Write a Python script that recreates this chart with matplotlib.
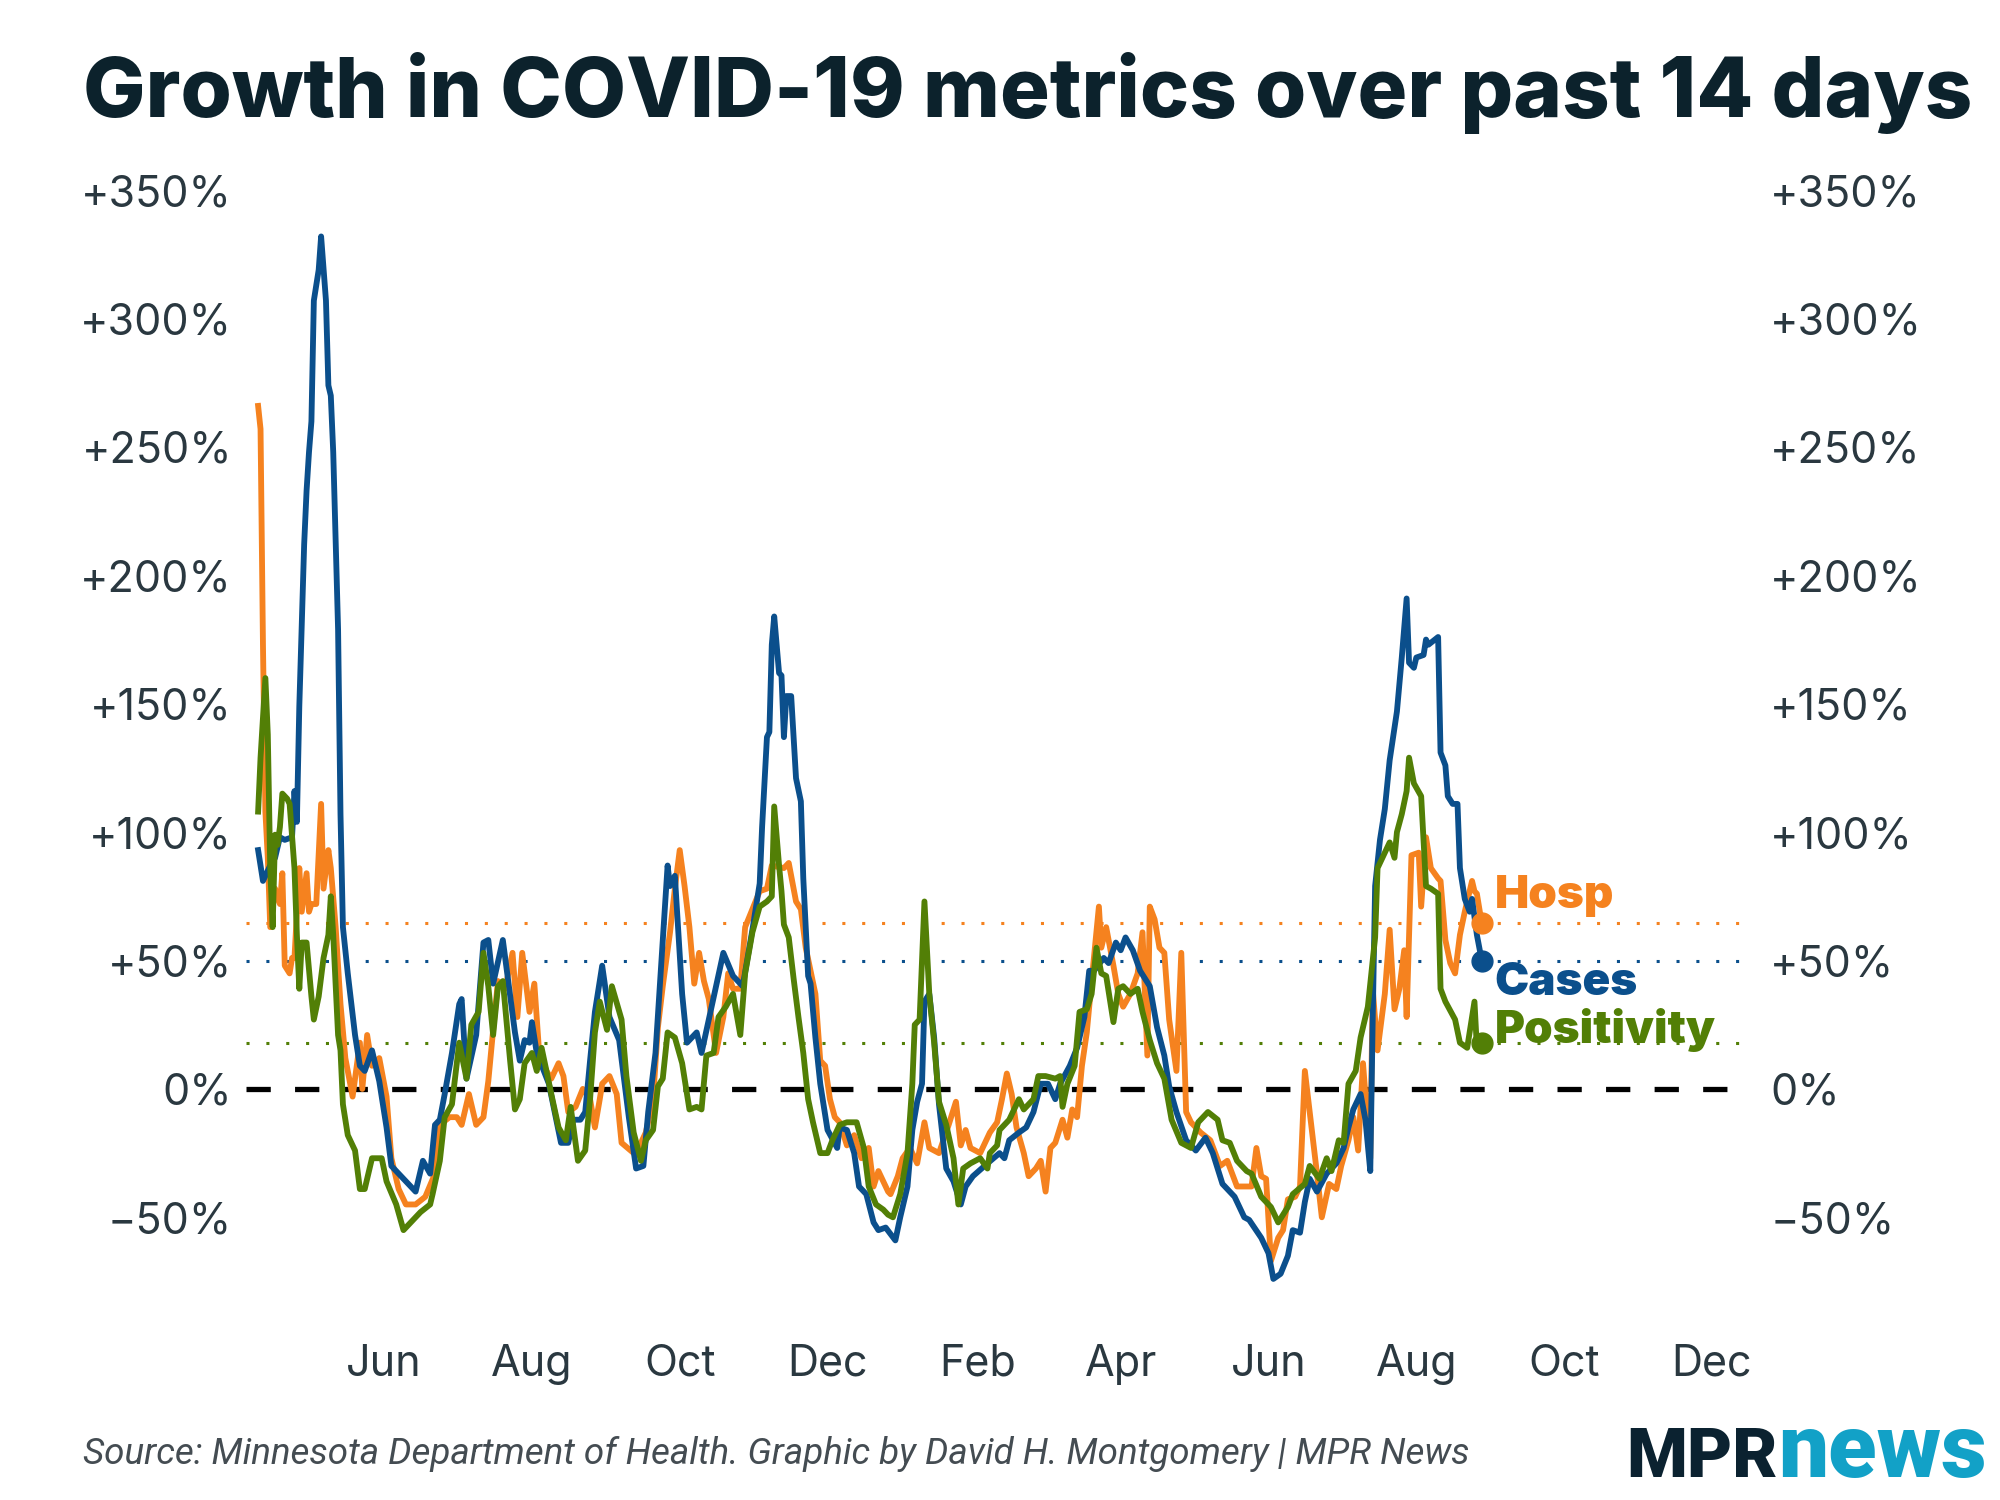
import numpy as np
import matplotlib.pyplot as plt
import matplotlib.dates as mdates

# days since 2020-04-01
cases_day = [9, 11, 14, 16, 18, 20, 23, 24, 25, 26, 28, 29, 30, 31, 32, 34, 35, 37, 38, 39, 40, 42, 43, 44, 46, 49, 51, 53, 56, 59, 62, 64, 70, 74, 77, 80, 82, 84, 86, 89, 92, 93, 95, 99, 102, 104, 106, 110, 115, 117, 119, 121, 122, 124, 129, 134, 137, 139, 142, 144, 146, 148, 151, 154, 158, 162, 165, 168, 170, 173, 176, 178, 179, 181, 184, 186, 190, 192, 195, 198, 201, 205, 209, 213, 216, 217, 219, 220, 221, 222, 224, 225, 226, 227, 229, 231, 233, 234, 236, 237, 239, 241, 244, 248, 249, 252, 255, 257, 260, 263, 265, 268, 272, 274, 277, 279, 281, 283, 284, 286, 288, 290, 293, 296, 299, 301, 304, 310, 315, 317, 319, 323, 326, 329, 332, 335, 338, 340, 344, 347, 350, 352, 354, 358, 360, 363, 365, 367, 370, 373, 377, 380, 383, 385, 388, 392, 396, 400, 403, 407, 412, 416, 418, 423, 426, 428, 431, 434, 436, 439, 441, 443, 446, 450, 454, 457, 459, 461, 464, 466, 468, 469, 470, 472, 474, 476, 479, 481, 483, 484, 486, 487, 490, 491, 492, 496, 497, 499, 500, 502, 504, 505, 507, 509, 510, 511, 512, 514]
cases_pct = [93, 81, 87, 90, 98, 97, 98, 116, 104, 149, 212, 233, 248, 260, 307, 319, 332, 307, 274, 270, 248, 179, 107, 63, 45, 21, 9, 7, 15, 3, -15, -30, -36, -40, -28, -33, -14, -12, -2, 14, 33, 35, 4, 21, 57, 58, 41, 58, 22, 11, 19, 18, 26, 14, 2, -21, -21, -12, -12, -9, 11, 30, 48, 28, 19, -11, -31, -30, -9, 14, 58, 87, 79, 83, 37, 18, 22, 14, 27, 40, 53, 44, 40, 62, 80, 102, 137, 139, 173, 184, 162, 161, 137, 153, 153, 121, 112, 82, 44, 41, 20, 2, -16, -23, -15, -16, -25, -38, -41, -52, -55, -54, -59, -50, -38, -16, -5, 2, 34, 37, 20, -6, -31, -36, -45, -38, -34, -29, -25, -27, -20, -17, -15, -9, 2, 2, -4, 2, 9, 16, 28, 46, 46, 51, 49, 57, 54, 59, 54, 46, 40, 24, 13, 1, -9, -20, -24, -19, -25, -37, -42, -50, -51, -58, -64, -74, -72, -65, -55, -56, -44, -35, -40, -33, -29, -23, -15, -8, -2, -12, -32, 27, 79, 97, 109, 128, 147, 168, 191, 166, 164, 168, 169, 175, 173, 176, 131, 126, 114, 111, 111, 86, 74, 69, 74, 67, 60, 50]

hosp_day = [9, 10, 11, 12, 13, 14, 16, 18, 19, 20, 22, 23, 24, 26, 27, 29, 30, 31, 33, 35, 36, 38, 39, 41, 43, 45, 48, 51, 52, 54, 56, 59, 62, 64, 67, 70, 74, 78, 82, 84, 88, 91, 93, 96, 99, 102, 104, 106, 108, 111, 114, 116, 118, 121, 123, 125, 128, 130, 133, 135, 137, 140, 143, 146, 148, 150, 151, 154, 157, 159, 164, 166, 169, 172, 174, 176, 179, 181, 183, 185, 187, 189, 191, 193, 195, 198, 201, 203, 205, 208, 210, 213, 216, 219, 221, 226, 228, 231, 233, 235, 237, 239, 241, 243, 245, 247, 249, 252, 255, 258, 261, 263, 265, 269, 270, 273, 275, 278, 281, 284, 286, 290, 294, 297, 299, 301, 303, 307, 311, 314, 316, 318, 320, 322, 325, 327, 330, 332, 334, 336, 338, 341, 343, 345, 347, 349, 351, 353, 356, 357, 359, 362, 364, 366, 369, 372, 374, 376, 377, 379, 381, 383, 385, 388, 390, 392, 394, 398, 402, 406, 409, 413, 419, 421, 423, 425, 427, 430, 432, 434, 437, 439, 441, 444, 446, 448, 451, 454, 456, 459, 461, 463, 465, 468, 469, 471, 474, 476, 478, 480, 482, 483, 485, 488, 489, 491, 493, 496, 497, 499, 501, 503, 505, 507, 510, 511, 512, 514]
hosp_pct = [266, 257, 173, 108, 90, 63, 78, 72, 84, 48, 45, 51, 51, 86, 69, 84, 69, 72, 72, 111, 78, 93, 86, 63, 33, 12, -3, 18, 0, 21, 9, 12, -3, -27, -39, -45, -45, -42, -33, -14, -11, -11, -14, -2, -14, -11, 3, 23, 42, 39, 53, 28, 53, 30, 41, 14, 7, 4, 10, 5, -9, -7, 0, -4, -15, -4, 2, 5, -2, -21, -25, -23, -17, -4, 24, 40, 61, 78, 93, 79, 63, 41, 53, 42, 35, 14, 28, 45, 39, 39, 63, 70, 77, 78, 87, 86, 88, 73, 70, 55, 46, 37, 11, 9, -4, -11, -13, -22, -18, -27, -23, -38, -32, -40, -41, -34, -27, -23, -29, -13, -23, -25, -14, -5, -22, -16, -23, -25, -17, -13, -4, 6, -2, -15, -25, -34, -31, -28, -40, -23, -21, -12, -19, -8, -11, 9, 22, 42, 71, 55, 63, 48, 37, 32, 37, 45, 61, 13, 71, 66, 55, 53, 27, 7, 53, -9, -13, -17, -20, -30, -28, -38, -38, -23, -34, -35, -67, -58, -55, -43, -42, -38, 7, -17, -33, -50, -37, -39, -30, -20, -11, -24, 10, -27, 39, 15, 37, 62, 31, 39, 54, 28, 91, 92, 71, 98, 86, 82, 81, 58, 49, 45, 60, 69, 81, 77, 76, 64.5]

pos_day = [9, 10, 12, 13, 14, 15, 16, 17, 18, 19, 21, 22, 24, 25, 26, 27, 29, 31, 32, 34, 36, 38, 39, 40, 42, 43, 44, 46, 49, 51, 53, 56, 60, 62, 66, 69, 73, 76, 80, 81, 84, 86, 89, 92, 95, 97, 100, 102, 104, 106, 108, 110, 113, 115, 117, 119, 122, 124, 126, 130, 133, 136, 138, 141, 144, 146, 148, 150, 153, 155, 159, 161, 164, 167, 169, 172, 174, 176, 178, 181, 184, 187, 190, 192, 194, 197, 199, 202, 205, 208, 210, 213, 216, 219, 221, 222, 224, 225, 226, 228, 230, 232, 234, 236, 238, 241, 244, 246, 249, 252, 256, 259, 261, 264, 267, 269, 271, 274, 277, 279, 280, 282, 284, 286, 288, 290, 293, 296, 298, 300, 303, 307, 310, 311, 314, 315, 319, 323, 325, 329, 331, 334, 338, 340, 341, 343, 346, 348, 351, 353, 355, 357, 359, 362, 364, 366, 369, 372, 374, 377, 380, 383, 386, 390, 394, 397, 401, 405, 407, 410, 413, 417, 419, 423, 427, 430, 434, 436, 441, 443, 447, 450, 452, 455, 457, 459, 462, 464, 467, 470, 471, 476, 478, 479, 481, 483, 484, 486, 489, 491, 493, 496, 497, 499, 503, 505, 508, 511, 512, 514]
pos_pct = [108, 129, 160, 138, 86, 63, 99, 95, 102, 115, 113, 111, 86, 60, 39, 57, 57, 36, 27, 36, 51, 60, 75, 60, 21, 15, -6, -18, -24, -39, -39, -27, -27, -36, -45, -55, -51, -48, -45, -41, -28, -11, -6, 18, 4, 25, 30, 53, 40, 21, 40, 42, 11, -8, -4, 10, 14, 7, 16, -2, -15, -20, -7, -28, -24, -4, 22, 34, 23, 40, 27, 5, -17, -28, -20, -16, 1, 4, 22, 20, 10, -8, -7, -8, 13, 14, 28, 32, 37, 21, 45, 61, 71, 73, 75, 110, 87, 77, 64, 59, 43, 28, 14, -4, -13, -25, -25, -20, -14, -13, -13, -23, -38, -45, -47, -49, -50, -41, -25, 2, 25, 27, 73, 37, 18, -5, -14, -27, -45, -31, -29, -27, -31, -25, -22, -16, -12, -4, -8, -4, 5, 5, 4, 5, -7, 2, 9, 30, 31, 37, 55, 45, 44, 26, 39, 40, 37, 39, 30, 19, 10, 4, -12, -21, -23, -13, -9, -12, -20, -21, -28, -32, -33, -42, -46, -52, -46, -41, -37, -30, -35, -27, -32, -20, -21, 2, 7, 20, 32, 59, 86, 96, 90, 100, 107, 116, 129, 119, 114, 79, 78, 76, 39, 34, 27, 18, 16, 34, 16, 18]

series = [
    ('Hosp', hosp_day, hosp_pct, '#f5821f'),
    ('Cases', cases_day, cases_pct, '#0b4f8c'),
    ('Positivity', pos_day, pos_pct, '#527f06'),
]
y_ticks = [-50, 0, 50, 100, 150, 200, 250, 300, 350]
start = np.datetime64('2020-04-01')

def to_dates(days):
    return start + np.array(days, dtype='timedelta64[D]')

def pct_label(v):
    if v > 0:
        return f'+{v}%'
    if v < 0:
        return f'\u2212{abs(v)}%'
    return '0%'

ink = '#2a3840'
plt.rcParams['font.family'] = ['Inter', 'DejaVu Sans']

fig = plt.figure(figsize=(20, 15), dpi=100)
ax = fig.add_axes([0.123, 0.12, 0.7475, 0.7703])

ax.axhline(0, color='black', lw=3.8, dashes=(4.6, 4.6), zorder=2)

offsets = {'Hosp': (13, 27), 'Cases': (13, -22), 'Positivity': (13, 13)}
for name, days, vals, color in series:
    d = to_dates(days)
    ax.axhline(vals[-1], color=color, lw=2.2, dashes=(1, 5.5), zorder=1)
    ax.plot(d, vals, color=color, lw=4.2, solid_joinstyle='round', zorder=3)
    ax.plot(d[-1], vals[-1], 'o', color=color, ms=15, zorder=4)
    ax.annotate(name, (d[-1], vals[-1]), xytext=offsets[name], textcoords='offset pixels',
                color=color, fontsize=33, fontweight='black', va='center', ha='left',
                annotation_clip=False)

ax.set_xlim(np.datetime64('2020-04-05'), np.datetime64('2021-12-13'))
ax.set_ylim(-90, 360)
ax.xaxis.set_major_locator(mdates.MonthLocator(bymonth=[2, 4, 6, 8, 10, 12]))
ax.xaxis.set_major_formatter(mdates.DateFormatter('%b'))
ax.set_yticks(y_ticks)
ax.set_yticklabels([pct_label(v) for v in y_ticks])
ax.tick_params(axis='both', length=0, labelsize=31, labelcolor=ink)
ax.tick_params(axis='x', pad=17)
ax.tick_params(axis='y', pad=10)

ax2 = ax.twinx()
ax2.set_ylim(ax.get_ylim())
ax2.set_yticks(y_ticks)
ax2.set_yticklabels([pct_label(v) for v in y_ticks])
ax2.tick_params(axis='y', length=0, labelsize=31, labelcolor=ink, pad=21)

for a in (ax, ax2):
    for s in a.spines.values():
        s.set_visible(False)

fig.text(0.0415, 1 - 117 / 1500, 'Growth in COVID-19 metrics over past 14 days',
         fontsize=59.8, fontweight='heavy', color='#0c222c', va='baseline', ha='left')
fig.text(0.0415, 1 - 1464 / 1500,
         'Source: Minnesota Department of Health. Graphic by David H. Montgomery | MPR News',
         fontsize=26.5, style='italic', color='#444c52', va='baseline', ha='left',
         family=['Roboto', 'DejaVu Sans'])

fig.text(1626 / 2000, 1 - 1477 / 1500, 'MPR', fontsize=50, fontweight='black',
         color='#0b2230', va='baseline', ha='left', family=['Roboto', 'DejaVu Sans'])
fig.text(1778 / 2000, 1 - 1477 / 1500, 'news', fontsize=64, fontweight='black',
         color='#12a1c7', va='baseline', ha='left', family=['Roboto', 'DejaVu Sans'])

fig.savefig('out.png', dpi=100)
